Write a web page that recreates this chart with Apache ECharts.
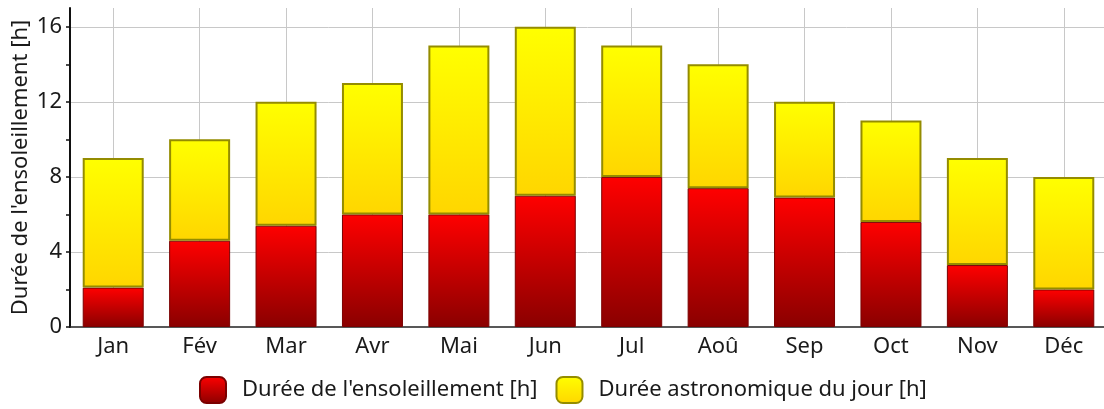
<!DOCTYPE html>
<html>
<head>
<meta charset="utf-8">
<script src="https://cdn.jsdelivr.net/npm/echarts@6/dist/echarts.min.js"></script>
<style>
  html, body { margin: 0; padding: 0; background: #fff; }
  #chart { width: 1104px; height: 409px; }
</style>
</head>
<body>
<div id="chart"></div>
<script>
// Monthly sunshine vs. astronomical day length (hours)
const months = ['Jan', 'Fév', 'Mar', 'Avr', 'Mai', 'Jun', 'Jul', 'Aoû', 'Sep', 'Oct', 'Nov', 'Déc'];
const sunshineHours = [2.1, 4.6, 5.4, 6.0, 6.0, 7.0, 8.0, 7.4, 6.9, 5.6, 3.3, 2.0];
const dayLengthHours = [9, 10, 12, 13, 15, 16, 15, 14, 12, 11, 9, 8];
const yTickValues = ['0', '1', '2', '3', '4', '5', '6', '7', '8', '9', '10', '11', '12', '13', '14', '15', '16', '17'];

const sunName = "Durée de l'ensoleillement [h]";
const dayName = 'Durée astronomique du jour [h]';

// The yellow segment sits on top of the red one and reaches the day length
const remainderHours = dayLengthHours.map((d, i) => Math.round((d - sunshineHours[i]) * 10) / 10);

const FONT = 'Noto Sans';
const TEXT = '#1a1a1a';
const FS = 22;

const redFill = new echarts.graphic.LinearGradient(0, 0, 0, 1, [
  { offset: 0, color: '#ff0000' },
  { offset: 1, color: '#8a0000' }
]);
const yellowFill = new echarts.graphic.LinearGradient(0, 0, 0, 1, [
  { offset: 0, color: '#ffff00' },
  { offset: 1, color: '#ffd600' }
]);

const chart = echarts.init(document.getElementById('chart'), null, { renderer: 'canvas' });

chart.setOption({
  animation: false,
  backgroundColor: '#ffffff',
  textStyle: { fontFamily: FONT, color: TEXT },
  grid: { left: 70, top: 8, bottom: 82, right: -3, containLabel: false, outerBoundsMode: 'none' },
  legend: {
    left: 194,
    bottom: 0,
    itemWidth: 26,
    itemHeight: 26,
    itemGap: 18,
    icon: 'roundRect',
    textStyle: { fontFamily: FONT, fontSize: FS, color: TEXT, padding: [0, 0, 0, 11] },
    data: [sunName, dayName]
  },
  xAxis: [
    {
      type: 'category',
      data: months,
      axisLine: { lineStyle: { color: '#222', width: 1.5 } },
      axisTick: { alignWithLabel: true, length: 6, lineStyle: { color: '#222', width: 1.5 } },
      axisLabel: { fontFamily: FONT, fontSize: FS, color: TEXT, margin: 9 },
      splitLine: { show: true, alignWithLabel: true, lineStyle: { color: '#c8c8c8', width: 1 } }
    },
    {
      // short ticks on the month boundaries
      type: 'category',
      data: months,
      position: 'bottom',
      axisLine: { show: false },
      axisTick: { length: 3, lineStyle: { color: '#222', width: 1.5 } },
      axisLabel: { show: false },
      splitLine: { show: false }
    }
  ],
  yAxis: [
    {
      type: 'value',
      min: 0,
      max: 17,
      interval: 4,
      name: "Durée de l'ensoleillement [h]",
      nameLocation: 'middle',
      nameGap: 38,
      nameMoveOverlap: false,
      nameTextStyle: { fontFamily: FONT, fontSize: FS, color: TEXT },
      axisLine: { show: true, lineStyle: { color: '#111', width: 2 } },
      axisTick: { show: false },
      axisLabel: { fontFamily: FONT, fontSize: FS, color: TEXT, margin: 8, showMaxLabel: false },
      splitLine: { show: true, showMinLine: false, showMaxLine: false, lineStyle: { color: '#c8c8c8', width: 1 } }
    },
    {
      // tick marks every 2 h along the value axis
      type: 'category',
      data: yTickValues,
      boundaryGap: false,
      position: 'left',
      axisLine: { show: false },
      axisTick: {
        show: true,
        length: 4,
        interval: (i) => i % 2 === 0 && i < 17,
        lineStyle: { color: '#111', width: 1.5 }
      },
      axisLabel: { show: false },
      splitLine: { show: false }
    }
  ],
  series: [
    {
      name: sunName,
      type: 'bar',
      stack: 'hours',
      barWidth: 61,
      data: sunshineHours,
      itemStyle: { color: redFill, borderColor: '#7a0000', borderWidth: 1 }
    },
    {
      name: dayName,
      type: 'bar',
      stack: 'hours',
      barWidth: 61,
      data: remainderHours,
      itemStyle: { color: yellowFill, borderColor: '#948c00', borderWidth: 2 }
    }
  ]
});
</script>
</body>
</html>
